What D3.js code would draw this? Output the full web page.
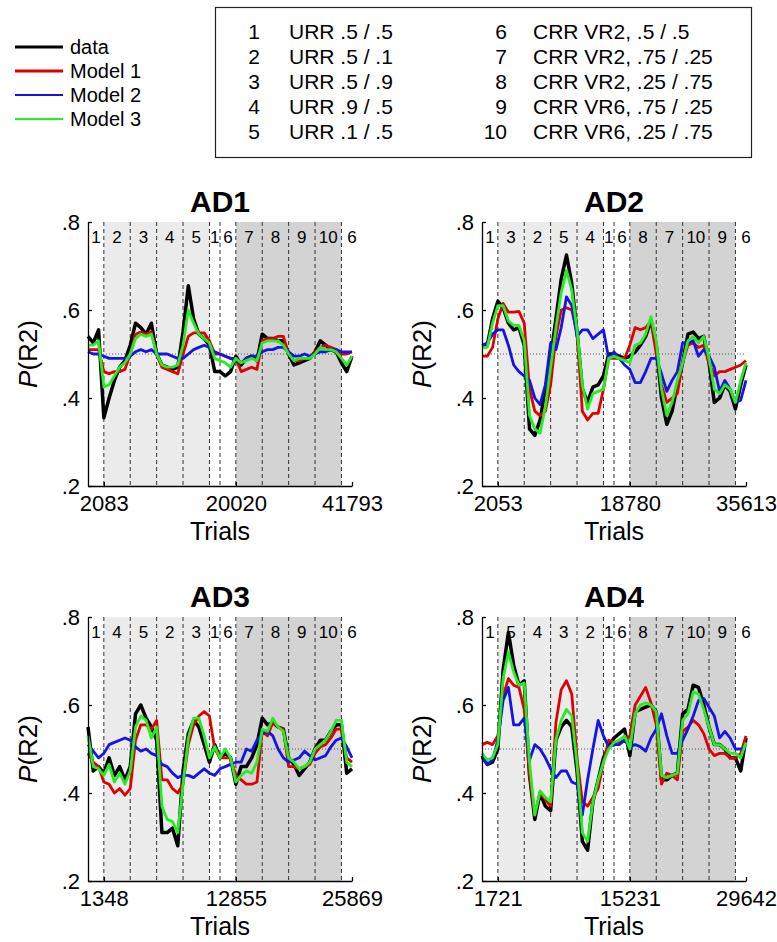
<!DOCTYPE html>
<html>
<head>
<meta charset="utf-8">
<script src="https://cdn.jsdelivr.net/npm/d3@7"></script>
<style>
  body { margin: 0; background: #fff; }
  svg { font-family: "Liberation Sans", Arial, sans-serif; }
</style>
</head>
<body>
<svg id="fig" width="777" height="942"></svg>
<script>
/* Condition key and legend */
const seriesNames = ["data", "Model 1", "Model 2", "Model 3"];
const seriesColors = ["#000000", "#e00000", "#1414e6", "#22ee22"];
const condNums = ["1", "2", "3", "4", "5", "6", "7", "8", "9", "10"];
const condLabels = ["URR .5 / .5", "URR .5 / .1", "URR .5 / .9", "URR .9 / .5", "URR .1 / .5",
  "CRR VR2, .5 / .5", "CRR VR2, .75 / .25", "CRR VR2, .25 / .75", "CRR VR6, .75 / .25", "CRR VR6, .25 / .75"];

// block edges in block units (same layout for every subject)
const blockEdges = [0, 0.6, 1.6, 2.6, 3.6, 4.6, 5.0, 5.6, 6.6, 7.6, 8.6, 9.6, 10];
const lightRange = [0.6, 4.6];
const darkRange = [5.6, 9.6];
const tickPos = [0.6, 5.6, 10];
const yTicks = [0.2, 0.4, 0.6, 0.8];
const yTickText = [".2", ".4", ".6", ".8"];

/* AD1 */
const ad1Blocks = ["1", "2", "3", "4", "5", "1", "6", "7", "8", "9", "10", "6"];
const ad1Ticks = ["2083", "20020", "41793"];
const ad1Data = [0.54, 0.525, 0.555, 0.355, 0.40, 0.44, 0.47, 0.485, 0.52, 0.57, 0.56, 0.545, 0.57, 0.50, 0.475, 0.47, 0.465, 0.47, 0.55, 0.655, 0.58, 0.545, 0.535, 0.52, 0.46, 0.46, 0.45, 0.46, 0.495, 0.475, 0.49, 0.495, 0.485, 0.545, 0.535, 0.535, 0.53, 0.53, 0.50, 0.475, 0.48, 0.485, 0.49, 0.505, 0.53, 0.52, 0.51, 0.505, 0.48, 0.46, 0.495];
const ad1M1 = [0.51, 0.51, 0.51, 0.46, 0.455, 0.46, 0.46, 0.465, 0.50, 0.545, 0.55, 0.545, 0.55, 0.50, 0.47, 0.465, 0.46, 0.455, 0.50, 0.54, 0.548, 0.548, 0.548, 0.53, 0.50, 0.50, 0.495, 0.49, 0.49, 0.46, 0.465, 0.47, 0.465, 0.53, 0.535, 0.535, 0.54, 0.54, 0.50, 0.485, 0.485, 0.49, 0.49, 0.505, 0.515, 0.52, 0.515, 0.51, 0.50, 0.50, 0.505];
const ad1M2 = [0.505, 0.50, 0.50, 0.495, 0.49, 0.49, 0.49, 0.49, 0.495, 0.505, 0.51, 0.505, 0.51, 0.50, 0.50, 0.50, 0.495, 0.49, 0.49, 0.50, 0.51, 0.515, 0.52, 0.515, 0.505, 0.50, 0.495, 0.49, 0.485, 0.48, 0.49, 0.495, 0.495, 0.505, 0.51, 0.51, 0.515, 0.515, 0.505, 0.495, 0.495, 0.50, 0.495, 0.50, 0.505, 0.505, 0.51, 0.51, 0.505, 0.505, 0.505];
const ad1M3 = [0.52, 0.52, 0.53, 0.425, 0.43, 0.45, 0.47, 0.48, 0.50, 0.535, 0.545, 0.54, 0.545, 0.50, 0.475, 0.47, 0.47, 0.475, 0.52, 0.60, 0.57, 0.545, 0.535, 0.525, 0.49, 0.485, 0.48, 0.47, 0.49, 0.48, 0.485, 0.49, 0.485, 0.525, 0.53, 0.53, 0.53, 0.52, 0.50, 0.485, 0.49, 0.49, 0.49, 0.50, 0.515, 0.51, 0.51, 0.505, 0.49, 0.475, 0.495];

/* AD2 */
const ad2Blocks = ["1", "3", "2", "5", "4", "1", "6", "8", "7", "10", "9", "6"];
const ad2Ticks = ["2053", "18780", "35613"];
const ad2Data = [0.52, 0.52, 0.58, 0.62, 0.605, 0.57, 0.555, 0.56, 0.52, 0.33, 0.315, 0.35, 0.42, 0.49, 0.58, 0.67, 0.725, 0.66, 0.55, 0.42, 0.39, 0.425, 0.43, 0.45, 0.50, 0.50, 0.495, 0.49, 0.495, 0.505, 0.52, 0.54, 0.575, 0.52, 0.40, 0.34, 0.37, 0.43, 0.48, 0.545, 0.55, 0.535, 0.54, 0.48, 0.39, 0.40, 0.43, 0.415, 0.375, 0.43, 0.475];
const ad2M1 = [0.495, 0.495, 0.515, 0.58, 0.615, 0.595, 0.595, 0.597, 0.57, 0.42, 0.37, 0.36, 0.37, 0.43, 0.54, 0.60, 0.605, 0.60, 0.55, 0.37, 0.35, 0.365, 0.365, 0.42, 0.49, 0.49, 0.49, 0.49, 0.52, 0.56, 0.555, 0.56, 0.575, 0.50, 0.43, 0.39, 0.40, 0.41, 0.48, 0.52, 0.525, 0.515, 0.52, 0.48, 0.45, 0.46, 0.46, 0.465, 0.47, 0.475, 0.485];
const ad2M2 = [0.52, 0.525, 0.545, 0.555, 0.555, 0.52, 0.475, 0.46, 0.45, 0.44, 0.40, 0.385, 0.43, 0.525, 0.51, 0.56, 0.63, 0.61, 0.54, 0.555, 0.555, 0.535, 0.545, 0.555, 0.49, 0.505, 0.49, 0.475, 0.465, 0.435, 0.435, 0.46, 0.49, 0.49, 0.455, 0.415, 0.44, 0.46, 0.525, 0.525, 0.53, 0.495, 0.51, 0.495, 0.47, 0.415, 0.44, 0.42, 0.39, 0.395, 0.44];
const ad2M3 = [0.515, 0.515, 0.57, 0.61, 0.61, 0.575, 0.565, 0.565, 0.53, 0.36, 0.33, 0.32, 0.38, 0.47, 0.56, 0.64, 0.69, 0.645, 0.555, 0.43, 0.375, 0.41, 0.415, 0.42, 0.49, 0.495, 0.49, 0.485, 0.48, 0.52, 0.525, 0.545, 0.585, 0.53, 0.42, 0.36, 0.39, 0.44, 0.48, 0.53, 0.54, 0.525, 0.54, 0.49, 0.42, 0.41, 0.43, 0.42, 0.39, 0.44, 0.48];

/* AD3 */
const ad3Blocks = ["1", "4", "5", "2", "3", "1", "6", "7", "8", "9", "10", "6"];
const ad3Ticks = ["1348", "12855", "25869"];
const ad3Data = [0.55, 0.45, 0.46, 0.445, 0.48, 0.44, 0.46, 0.43, 0.46, 0.58, 0.60, 0.57, 0.55, 0.52, 0.31, 0.31, 0.32, 0.28, 0.45, 0.535, 0.565, 0.55, 0.51, 0.47, 0.51, 0.48, 0.49, 0.48, 0.42, 0.46, 0.46, 0.48, 0.51, 0.57, 0.555, 0.56, 0.55, 0.545, 0.48, 0.465, 0.44, 0.455, 0.47, 0.50, 0.52, 0.52, 0.54, 0.555, 0.555, 0.445, 0.455];
const ad3M1 = [0.49, 0.47, 0.46, 0.425, 0.42, 0.40, 0.41, 0.395, 0.41, 0.52, 0.555, 0.555, 0.545, 0.565, 0.43, 0.43, 0.41, 0.40, 0.42, 0.51, 0.555, 0.575, 0.585, 0.575, 0.50, 0.48, 0.48, 0.48, 0.44, 0.43, 0.42, 0.42, 0.425, 0.54, 0.53, 0.56, 0.55, 0.545, 0.46, 0.46, 0.455, 0.46, 0.465, 0.49, 0.505, 0.51, 0.525, 0.545, 0.545, 0.48, 0.47];
const ad3M2 = [0.51, 0.495, 0.48, 0.49, 0.51, 0.515, 0.52, 0.525, 0.52, 0.505, 0.495, 0.50, 0.49, 0.485, 0.465, 0.46, 0.445, 0.435, 0.44, 0.44, 0.435, 0.445, 0.455, 0.445, 0.44, 0.455, 0.46, 0.465, 0.47, 0.47, 0.50, 0.495, 0.52, 0.535, 0.54, 0.53, 0.50, 0.48, 0.47, 0.475, 0.48, 0.495, 0.485, 0.475, 0.48, 0.485, 0.505, 0.52, 0.525, 0.505, 0.48];
const ad3M3 = [0.53, 0.46, 0.455, 0.44, 0.465, 0.425, 0.445, 0.42, 0.45, 0.55, 0.575, 0.565, 0.525, 0.55, 0.37, 0.34, 0.335, 0.31, 0.42, 0.525, 0.57, 0.57, 0.53, 0.48, 0.505, 0.48, 0.50, 0.48, 0.425, 0.44, 0.45, 0.445, 0.47, 0.545, 0.54, 0.57, 0.55, 0.54, 0.48, 0.47, 0.455, 0.46, 0.47, 0.50, 0.51, 0.52, 0.54, 0.565, 0.565, 0.47, 0.46];

/* AD4 */
const ad4Blocks = ["1", "5", "4", "3", "2", "1", "6", "8", "7", "10", "9", "6"];
const ad4Ticks = ["1721", "15231", "29642"];
const ad4Data = [0.485, 0.465, 0.47, 0.50, 0.68, 0.765, 0.69, 0.645, 0.655, 0.44, 0.34, 0.40, 0.37, 0.36, 0.52, 0.55, 0.565, 0.55, 0.45, 0.29, 0.27, 0.38, 0.43, 0.48, 0.505, 0.525, 0.535, 0.545, 0.485, 0.585, 0.59, 0.595, 0.60, 0.585, 0.43, 0.43, 0.44, 0.445, 0.58, 0.59, 0.645, 0.64, 0.60, 0.55, 0.51, 0.51, 0.50, 0.48, 0.48, 0.45, 0.525];
const ad4M1 = [0.51, 0.515, 0.51, 0.53, 0.62, 0.66, 0.645, 0.64, 0.59, 0.44, 0.35, 0.40, 0.385, 0.37, 0.56, 0.635, 0.655, 0.625, 0.48, 0.38, 0.37, 0.39, 0.41, 0.47, 0.52, 0.515, 0.515, 0.52, 0.53, 0.60, 0.62, 0.64, 0.605, 0.555, 0.42, 0.445, 0.44, 0.43, 0.54, 0.55, 0.565, 0.555, 0.535, 0.50, 0.485, 0.49, 0.49, 0.48, 0.48, 0.49, 0.53];
const ad4M2 = [0.48, 0.465, 0.475, 0.52, 0.61, 0.64, 0.555, 0.555, 0.57, 0.475, 0.51, 0.50, 0.48, 0.455, 0.435, 0.45, 0.45, 0.425, 0.42, 0.35, 0.43, 0.50, 0.565, 0.53, 0.505, 0.51, 0.51, 0.52, 0.505, 0.51, 0.505, 0.495, 0.525, 0.545, 0.58, 0.53, 0.49, 0.49, 0.52, 0.545, 0.575, 0.61, 0.615, 0.595, 0.575, 0.525, 0.54, 0.525, 0.50, 0.50, 0.50];
const ad4M3 = [0.49, 0.475, 0.48, 0.51, 0.66, 0.72, 0.675, 0.645, 0.65, 0.47, 0.35, 0.405, 0.39, 0.38, 0.52, 0.565, 0.59, 0.575, 0.465, 0.31, 0.29, 0.38, 0.43, 0.47, 0.50, 0.515, 0.52, 0.53, 0.50, 0.58, 0.60, 0.605, 0.60, 0.585, 0.44, 0.435, 0.44, 0.445, 0.565, 0.58, 0.63, 0.625, 0.59, 0.55, 0.51, 0.51, 0.50, 0.49, 0.49, 0.48, 0.515];

const panels = [
  { title: "AD1", left: 88, top: 222, blocks: ad1Blocks, ticks: ad1Ticks, series: [ad1Data, ad1M1, ad1M2, ad1M3] },
  { title: "AD2", left: 482, top: 222, blocks: ad2Blocks, ticks: ad2Ticks, series: [ad2Data, ad2M1, ad2M2, ad2M3] },
  { title: "AD3", left: 88, top: 617, blocks: ad3Blocks, ticks: ad3Ticks, series: [ad3Data, ad3M1, ad3M2, ad3M3] },
  { title: "AD4", left: 482, top: 617, blocks: ad4Blocks, ticks: ad4Ticks, series: [ad4Data, ad4M1, ad4M2, ad4M3] }
];

const svg = d3.select('#fig');
const pw = 264, ph = 264;
const strokeW = [3.5, 2.8, 2.8, 2.8];

// legend, top left
const legend = svg.append('g').attr('transform', 'translate(15,47)');
seriesNames.forEach((name, i) => {
  const row = legend.append('g').attr('transform', `translate(0,${i * 24})`);
  row.append('line')
    .attr('x1', 0).attr('x2', 48)
    .attr('stroke', seriesColors[i])
    .attr('stroke-width', i < 2 ? 3 : 2.2);
  row.append('text')
    .attr('x', 55).attr('dy', '0.35em')
    .attr('font-size', 20)
    .text(name);
});

// condition key box
const key = svg.append('g');
key.append('rect')
  .attr('x', 215.5).attr('y', 7.5)
  .attr('width', 536).attr('height', 150)
  .attr('fill', 'none')
  .attr('stroke', '#222')
  .attr('stroke-width', 1.2);
condNums.forEach((n, i) => {
  const col = Math.floor(i / 5), row = i % 5;
  const y = 32 + row * 24.8;
  key.append('text')
    .attr('x', col ? 507 : 260).attr('y', y).attr('dy', '0.35em')
    .attr('text-anchor', 'end').attr('font-size', 21)
    .text(n);
  key.append('text')
    .attr('x', col ? 533 : 289).attr('y', y).attr('dy', '0.35em')
    .attr('font-size', 21)
    .text(condLabels[i]);
});

panels.forEach(p => {
  const g = svg.append('g').attr('transform', `translate(${p.left},${p.top})`);
  const x = d3.scaleLinear().domain([0, 10]).range([0, pw]);
  const y = d3.scaleLinear().domain([0.2, 0.8]).range([ph, 0]);

  // shaded condition groups
  g.append('rect')
    .attr('x', x(lightRange[0])).attr('y', 0)
    .attr('width', x(lightRange[1]) - x(lightRange[0])).attr('height', ph)
    .attr('fill', '#ebebeb');
  g.append('rect')
    .attr('x', x(darkRange[0])).attr('y', 0)
    .attr('width', x(darkRange[1]) - x(darkRange[0])).attr('height', ph)
    .attr('fill', '#d3d3d3');

  // block boundaries
  g.selectAll('line.edge')
    .data(blockEdges.slice(1, -1))
    .enter().append('line')
    .attr('class', 'edge')
    .attr('x1', d => x(d)).attr('x2', d => x(d))
    .attr('y1', 0).attr('y2', ph)
    .attr('stroke', '#333')
    .attr('stroke-width', 1)
    .attr('stroke-dasharray', '4,3');

  // chance line
  g.append('line')
    .attr('x1', 0).attr('x2', pw)
    .attr('y1', y(0.5)).attr('y2', y(0.5))
    .attr('stroke', '#444')
    .attr('stroke-width', 0.9)
    .attr('stroke-dasharray', '1,2');

  // block labels
  g.selectAll('text.blk')
    .data(p.blocks)
    .enter().append('text')
    .attr('class', 'blk')
    .attr('x', (d, i) => i === p.blocks.length - 1 ? x(10) : x((blockEdges[i] + blockEdges[i + 1]) / 2))
    .attr('y', 15)
    .attr('dy', '0.35em')
    .attr('text-anchor', 'middle')
    .attr('font-size', 17)
    .text(d => d);

  // series lines
  p.series.forEach((vals, si) => {
    const step = 10 / (vals.length - 1);
    const line = d3.line()
      .x((d, i) => x(i * step))
      .y(d => y(d));
    g.append('path')
      .datum(vals)
      .attr('d', line)
      .attr('fill', 'none')
      .attr('stroke', seriesColors[si])
      .attr('stroke-width', strokeW[si])
      .attr('stroke-linejoin', 'round');
  });

  // axes
  const yAxis = d3.axisLeft(y)
    .tickValues(yTicks)
    .tickFormat((d, i) => yTickText[i])
    .tickSizeInner(-4)
    .tickSizeOuter(0)
    .tickPadding(8);
  const ya = g.append('g').call(yAxis);
  ya.selectAll('text').attr('font-size', 22).attr('fill', '#000');
  ya.selectAll('line, path').attr('stroke', '#000').attr('stroke-width', 1.3);

  const xAxis = d3.axisBottom(x)
    .tickValues(tickPos)
    .tickFormat((d, i) => p.ticks[i])
    .tickSizeInner(-4)
    .tickSizeOuter(0)
    .tickPadding(9);
  const xa = g.append('g').attr('transform', `translate(0,${ph})`).call(xAxis);
  xa.selectAll('text').attr('font-size', 22).attr('fill', '#000');
  xa.selectAll('line, path').attr('stroke', '#000').attr('stroke-width', 1.3);

  // title and axis labels
  g.append('text')
    .attr('x', pw / 2).attr('y', -10)
    .attr('text-anchor', 'middle')
    .attr('font-size', 30).attr('font-weight', 'bold')
    .text(p.title);
  g.append('text')
    .attr('x', pw / 2).attr('y', ph + 54)
    .attr('text-anchor', 'middle')
    .attr('font-size', 25)
    .text('Trials');
  const yl = g.append('text')
    .attr('transform', `translate(-60,${ph / 2}) rotate(-90)`)
    .attr('dy', '0.35em')
    .attr('text-anchor', 'middle')
    .attr('font-size', 26);
  yl.append('tspan').attr('font-style', 'italic').text('P');
  yl.append('tspan').text('(R2)');
});
</script>
</body>
</html>
